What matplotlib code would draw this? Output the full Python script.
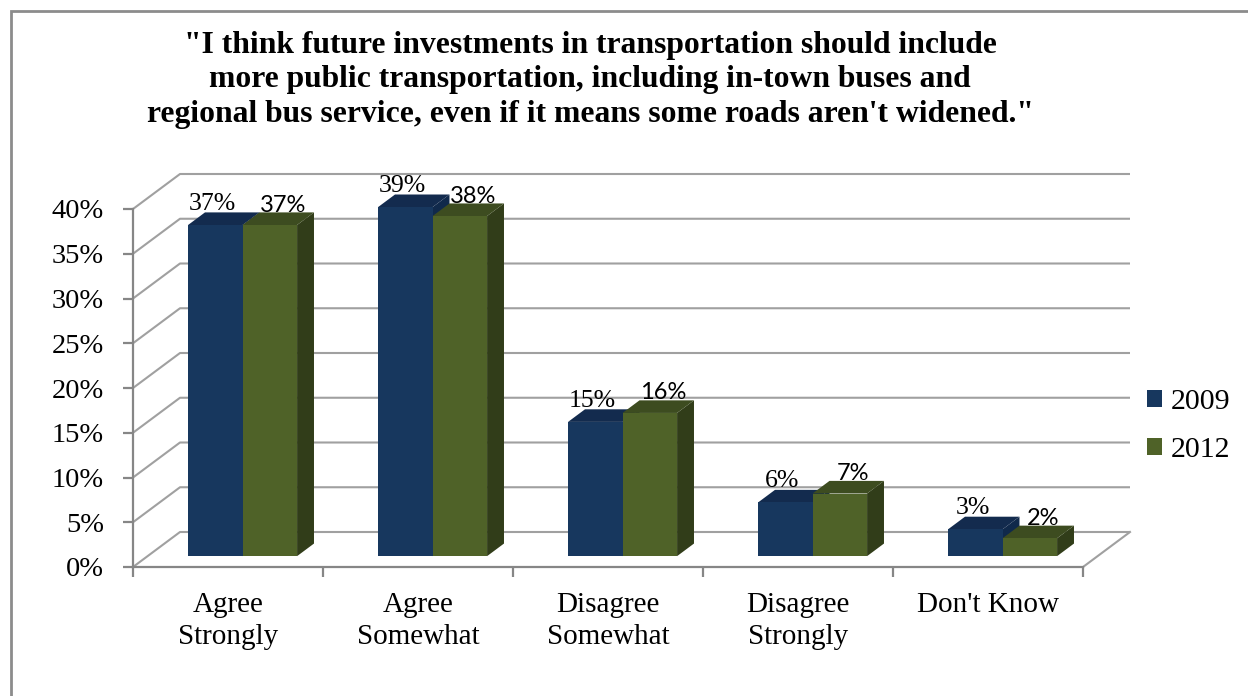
import matplotlib.pyplot as plt
from matplotlib.patches import Polygon, Patch, Rectangle
from matplotlib.ticker import FixedLocator, PercentFormatter

categories = ['Agree\nStrongly', 'Agree\nSomewhat', 'Disagree\nSomewhat',
              'Disagree\nStrongly', "Don't Know"]
series_names = ['2009', '2012']
values_2009 = [37, 39, 15, 6, 3]
values_2012 = [37, 38, 16, 7, 2]

title = ('"I think future investments in transportation should include\n'
         'more public transportation, including in-town buses and\n'
         'regional bus service, even if it means some roads aren\'t widened."')

# front / top / side shades for each series
face_colors = {
    '2009': ('#17375e', '#132b4e', '#10294b'),
    '2012': ('#4f6228', '#3d4c20', '#313d19'),
}

SERIF = 'Liberation Serif'
plt.rcParams['font.family'] = SERIF

fig = plt.figure(figsize=(12.48, 6.96), dpi=100)
W, H = 1248, 696

# plot region (front-left corner of the floor is the axes origin)
x_px0, x_px1 = 133, 1133
y_px0, y_px1 = 567, 175
ax = fig.add_axes([x_px0 / W, 1 - y_px0 / H, (x_px1 - x_px0) / W, (y_px0 - y_px1) / H])
px_per_cat = 190.0
px_per_pct = 8.95
ax.set_xlim(0, (x_px1 - x_px0) / px_per_cat)
ax.set_ylim(0, (y_px0 - y_px1) / px_per_pct)
ax.patch.set_visible(False)

# oblique depth offset of the back wall, in data units
DX = 47 / px_per_cat
DY = 35 / px_per_pct
n = len(categories)
grid_col = '#a0a0a0'
axis_col = '#868686'

# back wall gridlines plus their left wall diagonals
for v in range(0, 45, 5):
    ax.plot([0, DX, n + DX], [v, v + DY, v + DY], color=grid_col, lw=1.5,
            zorder=1, clip_on=False, solid_capstyle='butt')
# right edge of the floor
ax.plot([n, n + DX], [0, DY], color=grid_col, lw=1.5, zorder=1, clip_on=False)

# bars: front/top/side faces projected obliquely
d0, d1 = 0.31, 0.67
gap = 40.5 / px_per_cat
bw = 54.5 / px_per_cat
for j, (name, vals) in enumerate([('2009', values_2009), ('2012', values_2012)]):
    front, top, side = face_colors[name]
    for i, v in enumerate(vals):
        x = i + gap + j * bw
        fx, fy = d0 * DX, d0 * DY
        bx, by = d1 * DX, d1 * DY
        ax.add_patch(Polygon([(x + bw + fx, fy), (x + bw + bx, by),
                              (x + bw + bx, v + by), (x + bw + fx, v + fy)],
                             closed=True, fc=side, ec='none', zorder=3 + j))
        ax.add_patch(Polygon([(x + fx, v + fy), (x + bw + fx, v + fy),
                              (x + bw + bx, v + by), (x + bx, v + by)],
                             closed=True, fc=top, ec='none', zorder=3 + j))
        ax.add_patch(Rectangle((x + fx, fy), bw, v, fc=front, ec='none',
                               zorder=3 + j))
        if name == '2009':
            ax.text(x + bw / 2 + fx - 0.015, v + by + 0.3, f'{v}%',
                    ha='center', va='baseline', fontsize=18.5,
                    family=SERIF, zorder=6, clip_on=False)
        else:
            ax.text(x + bw / 2 + bx - 0.02, v + by + 0.1, f'{v}%',
                    ha='center', va='baseline', fontsize=17,
                    family='Lato', zorder=6, clip_on=False)

# axes lines and ticks
for s in ['top', 'right']:
    ax.spines[s].set_visible(False)
for s in ['left', 'bottom']:
    ax.spines[s].set_color(axis_col)
    ax.spines[s].set_linewidth(1.6)
ax.spines['left'].set_bounds(0, 40)
ax.spines['bottom'].set_bounds(0, n)

ax.yaxis.set_major_locator(FixedLocator(range(0, 45, 5)))
ax.yaxis.set_major_formatter(PercentFormatter(decimals=0))
ax.tick_params(axis='y', which='major', length=7, width=1.6, color=axis_col,
               pad=14, labelsize=20.5)

ax.xaxis.set_major_locator(FixedLocator(range(0, n + 1)))
ax.xaxis.set_minor_locator(FixedLocator([i + 0.5 for i in range(n)]))
ax.set_xticklabels([], minor=False)
ax.set_xticklabels(categories, minor=True)
ax.tick_params(axis='x', which='major', length=7, width=1.6, color=axis_col)
ax.tick_params(axis='x', which='minor', length=0, pad=18, labelsize=21)
for lab in ax.get_xticklabels(minor=True):
    lab.set_linespacing(1.3)

# title
fig.text(590 / W, 1 - 31 / H, title, ha='center', va='top', fontsize=22.8,
         fontweight='bold', family=SERIF, linespacing=1.25)

# legend
handles = [Patch(fc=face_colors[s][0], ec='none') for s in series_names]
fig.legend(handles, series_names, loc='center left',
           bbox_to_anchor=(1147 / W, 1 - 426 / H), frameon=False,
           fontsize=21.5, handlelength=0.5, handleheight=0.5,
           handletextpad=0.3, labelspacing=0.75, borderaxespad=0, borderpad=0)

# outer frame
fig.patches.append(Rectangle((11 / W, -0.1), 1.2, 1 - 11 / H + 0.1,
                             transform=fig.transFigure, fill=False,
                             ec='#8c8c8c', lw=2))

fig.savefig('out.png', dpi=100)
